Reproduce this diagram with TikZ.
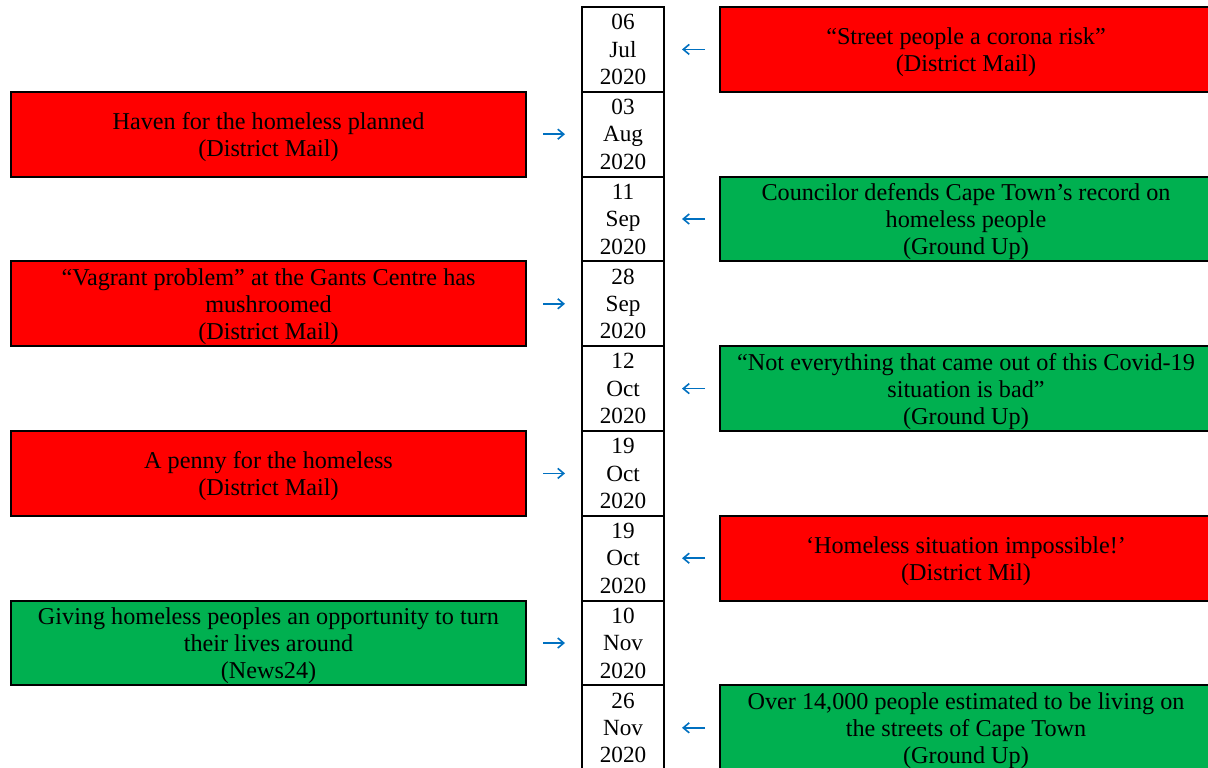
\documentclass[tikz,border=0pt]{standalone}
\usepackage{fontspec}
\setmainfont{Liberation Serif}
\usepackage{xcolor}
\usetikzlibrary{arrows.meta,positioning}

\definecolor{newsred}{HTML}{FF0000}
\definecolor{newsgreen}{HTML}{00B050}
\definecolor{arrowblue}{HTML}{0070C0}

\tikzset{
datebox/.style={draw,line width=1pt,fill=white,minimum width=41pt,minimum height=42.4pt,inner sep=0pt,outer sep=0pt,align=center,text depth=-1pt,font=\fontsize{11.6}{13.7}\selectfont},
newsbox/.style={draw,line width=1pt,minimum height=42.4pt,inner sep=0pt,outer sep=0pt,align=center,text depth=0pt,font=\fontsize{12.1}{13.5}\selectfont},
badleft/.style={newsbox,fill=newsred,minimum width=257.5pt,left=28pt of #1},
goodleft/.style={newsbox,fill=newsgreen,minimum width=257.5pt,left=28pt of #1},
badright/.style={newsbox,fill=newsred,minimum width=246pt,right=28pt of #1},
goodright/.style={newsbox,fill=newsgreen,minimum width=246pt,right=28pt of #1},
toleft/.style={->,arrowblue,line width=0.8pt,shorten <=7.5pt,shorten >=9pt},
toright/.style={->,arrowblue,line width=0.8pt,shorten <=8.5pt,shorten >=8.5pt}
}

\begin{document}
\begin{tikzpicture}[x=0.5pt,y=-0.5pt,>={Straight Barb[length=3pt,width=5pt]}]
\clip (0,0) rectangle (1208,767);
% dates down the middle
\node[datebox] (d1) at (623,49.4) {06\\Jul\\2020};
\node[datebox,below=0pt of d1] (d2) {03\\Aug\\2020};
\node[datebox,below=0pt of d2] (d3) {11\\Sep\\2020};
\node[datebox,below=0pt of d3] (d4) {28\\Sep\\2020};
\node[datebox,below=0pt of d4] (d5) {12\\Oct\\2020};
\node[datebox,below=0pt of d5] (d6) {19\\Oct\\2020};
\node[datebox,below=0pt of d6] (d7) {19\\Oct\\2020};
\node[datebox,below=0pt of d7] (d8) {10\\Nov\\2020};
\node[datebox,below=0pt of d8] (d9) {26\\Nov\\2020};
% headlines
\node[badright=d1] (r1) {“Street people a corona risk”\\(District Mail)};
\node[badleft=d2] (l1) {Haven for the homeless planned\\(District Mail)};
\node[goodright=d3] (r2) {Councilor defends Cape Town’s record on\\homeless people\\(Ground Up)};
\node[badleft=d4] (l2) {“Vagrant problem” at the Gants Centre has\\mushroomed\\(District Mail)};
\node[goodright=d5] (r3) {“Not everything that came out of this Covid-19\\situation is bad”\\(Ground Up)};
\node[badleft=d6] (l3) {A penny for the homeless\\(District Mail)};
\node[badright=d7] (r4) {‘Homeless situation impossible!’\\(District Mil)};
\node[goodleft=d8] (l4) {Giving homeless peoples an opportunity to turn\\their lives around\\(News24)};
\node[goodright=d9] (r5) {Over 14,000 people estimated to be living on\\the streets of Cape Town\\(Ground Up)};
% arrows
\draw[toleft] (r1) -- (d1);
\draw[toright] (l1) -- (d2);
\draw[toleft] (r2) -- (d3);
\draw[toright] (l2) -- (d4);
\draw[toleft] (r3) -- (d5);
\draw[toright] (l3) -- (d6);
\draw[toleft] (r4) -- (d7);
\draw[toright] (l4) -- (d8);
\draw[toleft] (r5) -- (d9);
\end{tikzpicture}
\end{document}
